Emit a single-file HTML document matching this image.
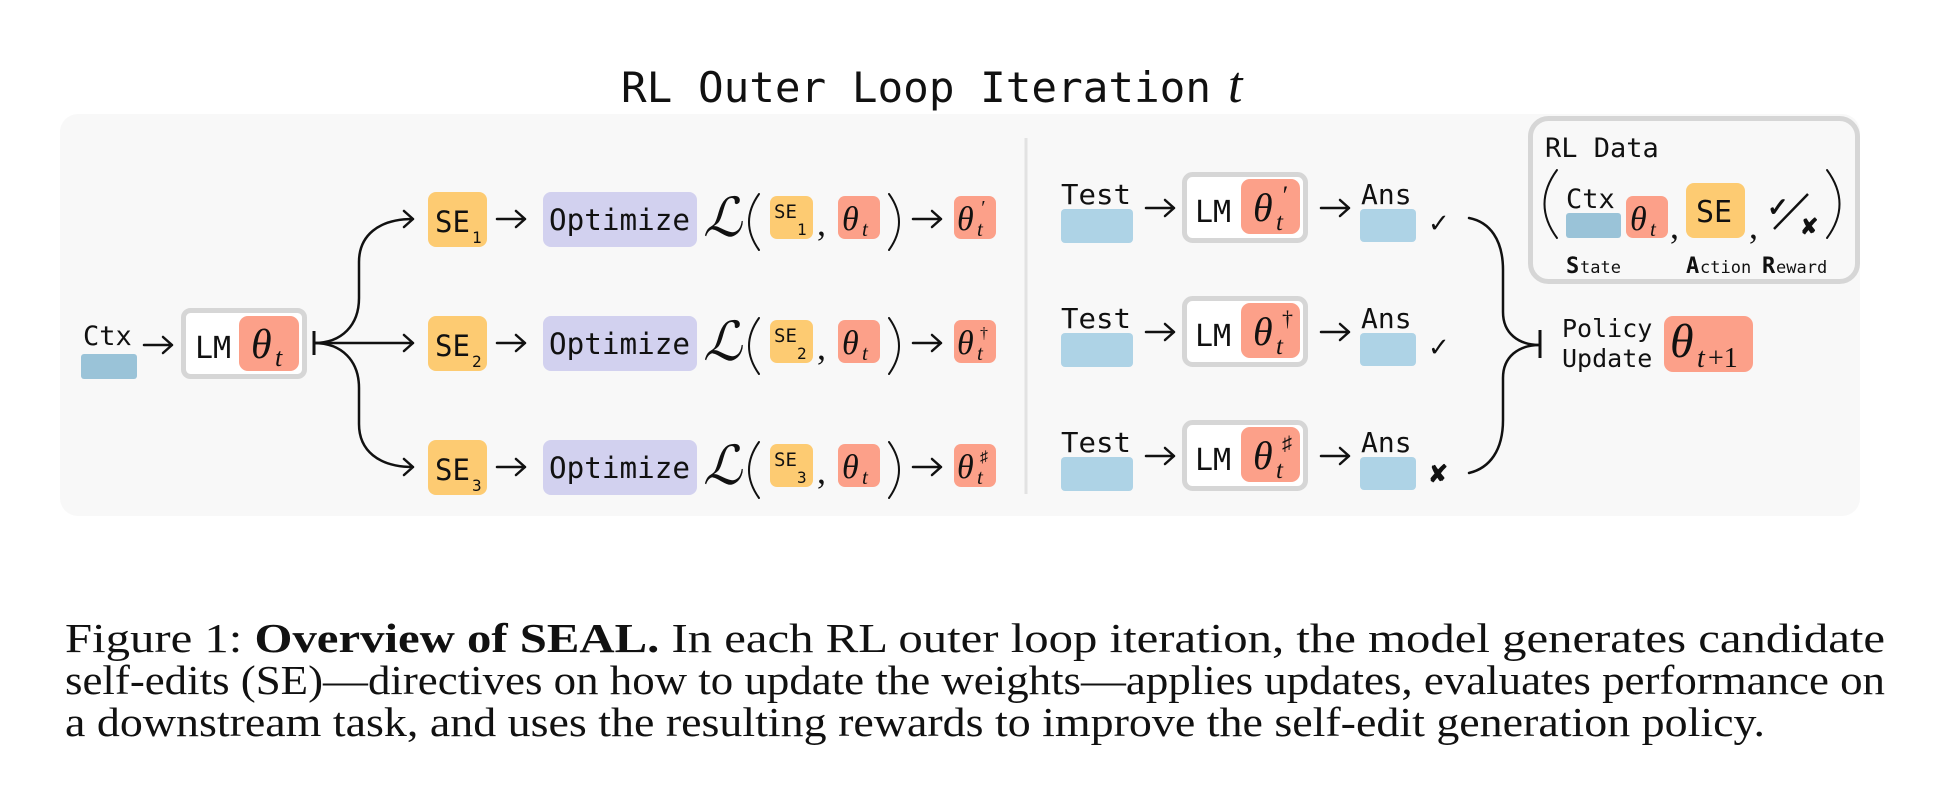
<!DOCTYPE html>
<html><head><meta charset="utf-8"><style>
html,body{margin:0;padding:0;background:#fff;}
svg{display:block;}
.m{font-family:"DejaVu Sans Mono","Liberation Mono",monospace;fill:#111;}
.s{font-family:"Liberation Serif","DejaVu Serif",serif;fill:#111;}
.i{font-family:"Liberation Serif","DejaVu Serif",serif;font-style:italic;fill:#111;}
.ar{stroke:#111;stroke-width:2.5;fill:none;stroke-linecap:round;stroke-linejoin:round;}
.pr{stroke:#111;stroke-width:2;fill:none;stroke-linecap:round;}
</style></head><body>
<svg width="1952" height="798" viewBox="0 0 1952 798" xmlns="http://www.w3.org/2000/svg">
<defs>
<g id="arr"><path class="ar" d="M0 0 L28 0 M19 -8 L28 0 L19 8"/></g>
<g id="lrow">
<rect x="428" y="192" width="59" height="55" rx="8" fill="#fdcb72"/>
<text class="m" x="435" y="232" font-size="29">SE</text>
<use href="#arr" x="497" y="219"/>
<rect x="543" y="192" width="154" height="55" rx="8" fill="#d2d1ef"/>
<text class="m" x="549" y="230" font-size="29" textLength="141" lengthAdjust="spacingAndGlyphs">Optimize</text>
<text class="i" x="703" y="236" font-size="54">ℒ</text>
<path class="pr" d="M759 194 Q739 222 759 250"/>
<rect x="770" y="196" width="43" height="43" rx="7" fill="#fdcb72"/>
<text class="m" x="774" y="218" font-size="19">SE</text>
<text class="s" x="817" y="235" font-size="36">,</text>
<rect x="838" y="196" width="42" height="43" rx="7" fill="#fca089"/>
<text class="i" x="842" y="230" font-size="34">θ</text>
<text class="i" x="862" y="236" font-size="21">t</text>
<path class="pr" d="M889 194 Q909 222 889 250"/>
<use href="#arr" x="913" y="219"/>
<rect x="954" y="196" width="42" height="43" rx="7" fill="#fca089"/>
<text class="i" x="957" y="230" font-size="34">θ</text>
<text class="i" x="977" y="236" font-size="21">t</text>
</g>
<g id="rrow">
<text class="m" x="1061" y="204" font-size="28" textLength="70" lengthAdjust="spacingAndGlyphs">Test</text>
<rect x="1061" y="209" width="72" height="34" rx="4" fill="#aed3e6"/>
<use href="#arr" x="1146" y="208"/>
<rect x="1184.5" y="174.5" width="121" height="66" rx="8" fill="#fff" stroke="#d6d6d6" stroke-width="5"/>
<text class="m" x="1195" y="222" font-size="30">LM</text>
<rect x="1241" y="179" width="59" height="55" rx="9" fill="#fca089"/>
<text class="i" x="1253" y="221" font-size="40">θ</text>
<text class="i" x="1276" y="230" font-size="25">t</text>
<use href="#arr" x="1321" y="208"/>
<text class="m" x="1361" y="204" font-size="28">Ans</text>
<rect x="1360" y="209" width="56" height="33" rx="4" fill="#aed3e6"/>
</g>
</defs>
<text class="m" x="621" y="102" font-size="42" textLength="590" lengthAdjust="spacingAndGlyphs">RL Outer Loop Iteration</text>
<text class="i" x="1228" y="102" font-size="52">t</text>
<rect x="60" y="114" width="1800" height="402" rx="18" fill="#f8f8f8"/>
<line x1="1026" y1="138" x2="1026" y2="494" stroke="#e2e2e2" stroke-width="3"/>

<text class="m" x="83" y="345" font-size="27">Ctx</text>
<rect x="81" y="354" width="56" height="25" rx="3" fill="#9ac3d8"/>
<use href="#arr" x="144" y="345"/>
<rect x="183.5" y="310.5" width="121" height="66" rx="7" fill="#fff" stroke="#d6d6d6" stroke-width="5"/>
<text class="m" x="195" y="358" font-size="30">LM</text>
<rect x="239" y="316" width="60" height="55" rx="9" fill="#fca089"/>
<text class="i" x="251" y="358" font-size="42">θ</text>
<text class="i" x="275" y="366" font-size="26">t</text>
<line x1="314" y1="331" x2="314" y2="355" stroke="#111" stroke-width="3"/>
<path class="ar" d="M314 343 L413 343 M404 335 L413 343 L404 351"/>
<path class="ar" d="M314 343 C342 343 359 325 359 298 L359 262 C359 236 378 219 413 219 M404 211 L413 219 L404 227"/>
<path class="ar" d="M314 343 C342 343 359 361 359 388 L359 424 C359 450 378 467 413 467 M404 459 L413 467 L404 475"/>

<use href="#lrow"/>
<text class="m" x="472" y="243" font-size="16">1</text>
<text class="m" x="797" y="235" font-size="16">1</text>
<text class="i" x="980" y="214" font-size="20">′</text>
<use href="#lrow" y="124"/>
<text class="m" x="472" y="367" font-size="16">2</text>
<text class="m" x="797" y="359" font-size="16">2</text>
<text class="s" x="980" y="338" font-size="16">†</text>
<use href="#lrow" y="248"/>
<text class="m" x="472" y="491" font-size="16">3</text>
<text class="m" x="797" y="483" font-size="16">3</text>
<text class="s" x="980" y="462" font-size="16">♯</text>

<use href="#rrow"/>
<text class="i" x="1281" y="204" font-size="26">′</text>
<text class="s" x="1428" y="232" font-size="26">✓</text>
<use href="#rrow" y="124"/>
<text class="s" x="1282" y="326" font-size="22">†</text>
<text class="s" x="1428" y="356" font-size="26">✓</text>
<use href="#rrow" y="248"/>
<text class="s" x="1282" y="450" font-size="20">♯</text>
<text class="s" x="1428" y="482" font-size="24" font-weight="bold">✘</text>

<path class="ar" d="M1469 218 C1490 222 1503 240 1503 270 L1503 312 C1503 333 1518 345 1540 345"/>
<path class="ar" d="M1469 473 C1490 468 1503 450 1503 420 L1503 378 C1503 357 1518 345 1540 345"/>
<line x1="1540" y1="330" x2="1540" y2="358" stroke="#111" stroke-width="3"/>
<text class="m" x="1562" y="337" font-size="25">Policy</text>
<text class="m" x="1562" y="367" font-size="25">Update</text>
<rect x="1664" y="316" width="89" height="56" rx="9" fill="#fca089"/>
<text class="i" x="1670" y="357" font-size="48">θ</text>
<text class="i" x="1697" y="367" font-size="28">t</text>
<text class="s" x="1708" y="367" font-size="28">+1</text>

<rect x="1530.5" y="118.5" width="327" height="163" rx="18" fill="none" stroke="#d6d6d6" stroke-width="5"/>
<text class="m" x="1545" y="157" font-size="27">RL Data</text>
<path class="pr" d="M1557 170 Q1532 204 1557 238" stroke-width="2.5"/>
<text class="m" x="1566" y="208" font-size="27">Ctx</text>
<rect x="1566" y="213" width="55" height="25" rx="3" fill="#9ac3d8"/>
<rect x="1626" y="196" width="42" height="42" rx="7" fill="#fca089"/>
<text class="i" x="1630" y="230" font-size="34">θ</text>
<text class="i" x="1650" y="236" font-size="21">t</text>
<text class="s" x="1670" y="238" font-size="36">,</text>
<rect x="1686" y="183" width="59" height="55" rx="8" fill="#fdcb72"/>
<text class="m" x="1696" y="222" font-size="30">SE</text>
<text class="s" x="1749" y="238" font-size="36">,</text>
<text class="s" x="1767" y="216" font-size="26" font-weight="bold">✓</text>
<line x1="1774" y1="229" x2="1808" y2="194" stroke="#111" stroke-width="2.5"/>
<text class="s" x="1800" y="234" font-size="22" font-weight="bold">✘</text>
<path class="pr" d="M1827 170 Q1852 204 1827 238" stroke-width="2.5"/>
<text class="m" x="1566" y="273" font-size="22" font-weight="bold">S</text><text class="m" x="1580" y="273" font-size="17">tate</text>
<text class="m" x="1686" y="273" font-size="22" font-weight="bold">A</text><text class="m" x="1700" y="273" font-size="17">ction</text>
<text class="m" x="1762" y="273" font-size="22" font-weight="bold">R</text><text class="m" x="1776" y="273" font-size="17">eward</text>

<text class="s" x="65" y="652" font-size="41" textLength="1820" lengthAdjust="spacingAndGlyphs">Figure 1:  <tspan font-weight="bold">Overview of SEAL.</tspan> In each RL outer loop iteration, the model generates candidate</text>
<text class="s" x="65" y="694" font-size="41" textLength="1820" lengthAdjust="spacingAndGlyphs">self-edits (SE)—directives on how to update the weights—applies updates, evaluates performance on</text>
<text class="s" x="65" y="736" font-size="41" textLength="1700" lengthAdjust="spacingAndGlyphs">a downstream task, and uses the resulting rewards to improve the self-edit generation policy.</text>
</svg>
</body></html>
